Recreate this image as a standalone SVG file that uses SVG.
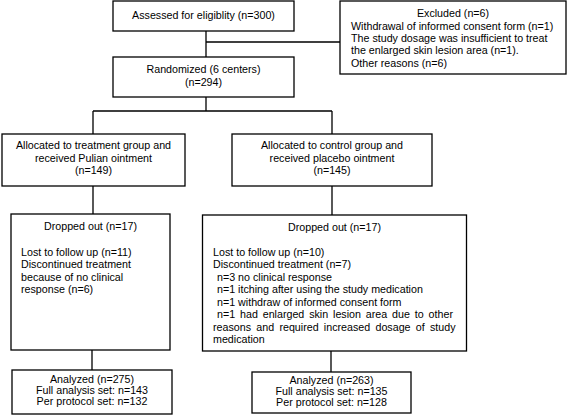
<svg xmlns="http://www.w3.org/2000/svg" width="568" height="416" viewBox="0 0 568 416">
<style>
.box{fill:#fff;stroke:#000;stroke-width:1.3}
.ln{fill:none;stroke:#000;stroke-width:1.3}
text{font-family:"Liberation Sans",Arial,sans-serif;font-size:10.7px;fill:#000}
.c{text-anchor:middle}
</style>
<rect width="568" height="416" fill="#fff"/>
<g id="connectors">
<path class="ln" d="M206 31V57M206 42H340M206 97V111M93 111H332M93 111V134M332 111V134M93 186V214M332 186V215M92 350V370M331 351V372"/>
</g>
<g id="assessed">
<rect class="box" x="113" y="1" width="181" height="30"/>
<text class="c" x="203.5" y="18.5">Assessed for eligiblity (n=300)</text>
</g>
<g id="excluded">
<rect class="box" x="340" y="1" width="226" height="73"/>
<text class="c" x="453" y="17">Excluded (n=6)</text>
<text x="351" y="29.5">Withdrawal of informed consent form (n=1)</text>
<text x="351" y="41.5">The study dosage was insufficient to treat</text>
<text x="351" y="54">the enlarged skin lesion area (n=1).</text>
<text x="351" y="66.5">Other reasons (n=6)</text>
</g>
<g id="randomized">
<rect class="box" x="113" y="57" width="181" height="40"/>
<text class="c" x="203.5" y="73">Randomized (6 centers)</text>
<text class="c" x="203.5" y="86">(n=294)</text>
</g>
<g id="treatment">
<rect class="box" x="2" y="134" width="183" height="52"/>
<text class="c" x="93.5" y="149">Allocated to treatment group and</text>
<text class="c" x="93.5" y="161.5">received Pulian ointment</text>
<text class="c" x="93.5" y="174">(n=149)</text>
</g>
<g id="control">
<rect class="box" x="232" y="134" width="200" height="52"/>
<text class="c" x="332" y="149">Allocated to control group and</text>
<text class="c" x="332" y="161.5">received placebo ointment</text>
<text class="c" x="332" y="174">(n=145)</text>
</g>
<g id="dropped-left">
<rect class="box" x="11" y="214" width="159" height="136"/>
<text class="c" x="90.5" y="230">Dropped out (n=17)</text>
<text x="21" y="255.5">Lost to follow up (n=11)</text>
<text x="21" y="268">Discontinued treatment</text>
<text x="21" y="280.5">because of no clinical</text>
<text x="21" y="293">response (n=6)</text>
</g>
<g id="dropped-right">
<rect class="box" x="202.5" y="215" width="264" height="136"/>
<text class="c" x="334.5" y="231">Dropped out (n=17)</text>
<text x="213" y="255.5">Lost to follow up (n=10)</text>
<text x="213" y="268">Discontinued treatment (n=7)</text>
<text x="217" y="280.5">n=3 no clinical response</text>
<text x="217" y="293">n=1 itching after using the study medication</text>
<text x="217" y="305.5">n=1 withdraw of informed consent form</text>
<text x="217" y="318" word-spacing="1.9">n=1 had enlarged skin lesion area due to other</text>
<text x="213" y="330.5" word-spacing="2.3">reasons and required increased dosage of study</text>
<text x="213" y="343">medication</text>
</g>
<g id="analyzed-left">
<rect class="box" x="12" y="370" width="160" height="44"/>
<text class="c" x="92" y="383">Analyzed (n=275)</text>
<text class="c" x="92" y="394">Full analysis set: n=143</text>
<text class="c" x="92" y="405">Per protocol set: n=132</text>
</g>
<g id="analyzed-right">
<rect class="box" x="252" y="372" width="159" height="41"/>
<text class="c" x="331.5" y="384">Analyzed (n=263)</text>
<text class="c" x="331.5" y="395">Full analysis set: n=135</text>
<text class="c" x="331.5" y="406">Per protocol set: n=128</text>
</g>
</svg>
